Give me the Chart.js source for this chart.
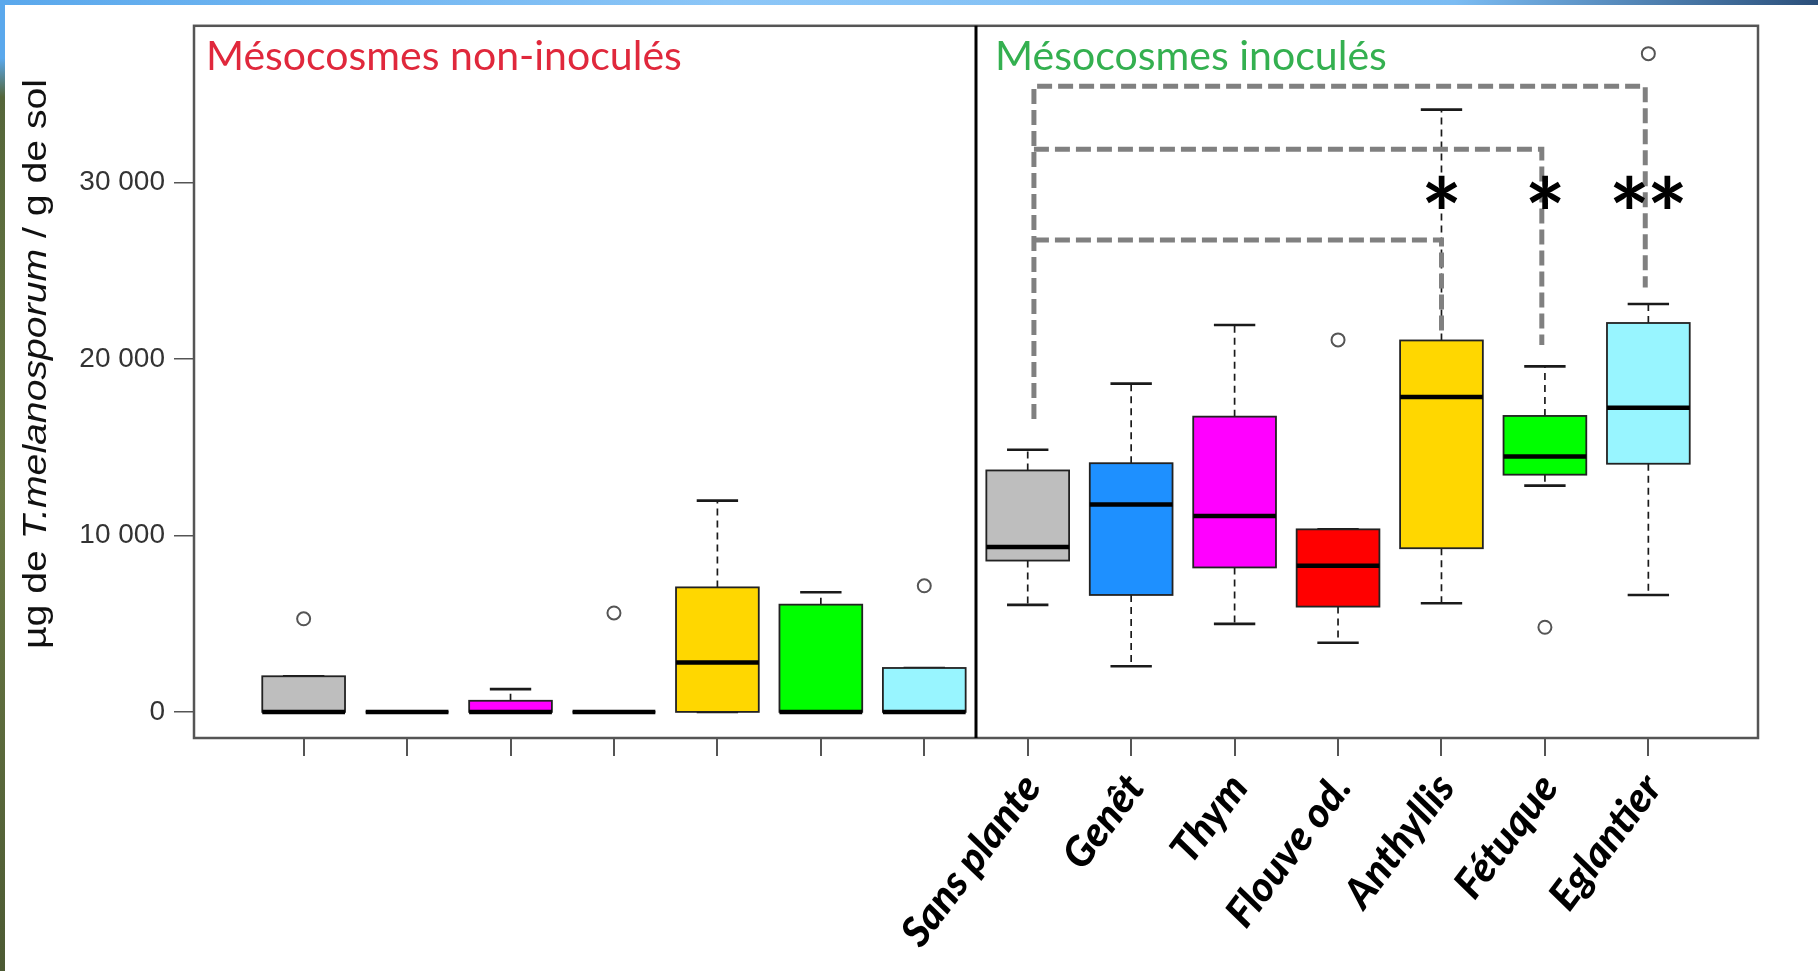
<!DOCTYPE html>
<html><head><meta charset="utf-8">
<script src="https://cdn.jsdelivr.net/npm/chart.js@4.4.1/dist/chart.umd.min.js"></script>
<style>
html,body{margin:0;padding:0;background:#fff;overflow:hidden}
#wrap{position:relative;width:1818px;height:971px;background:#fff}
#topband{position:absolute;left:0;top:0;width:1818px;height:5px;background:linear-gradient(90deg,#5aa8ec,#8cc6f7 40%,#7bbcf3 80%,#2b4f7a)}
#leftband{position:absolute;left:0;top:0;width:5px;height:971px;background:linear-gradient(180deg,#5aa8ec 0,#5aa8ec 6%,#55663a 10%,#6b7a45 50%,#4c5a33 100%)}
canvas{position:absolute;left:0;top:0}
</style></head><body>
<div id="wrap"><canvas id="c" width="1818" height="971"></canvas><div id="topband"></div><div id="leftband"></div></div>
<script>
// ---- data ----
const plants = ['Sans plante','Genêt','Thym','Flouve od.','Anthyllis','Fétuque','Eglantier'];
const groupTitles = ['Mésocosmes non-inoculés','Mésocosmes inoculés'];
const yTicks = [0, 10000, 20000, 30000];

// non-inoculated mesocosms (positions 1..7)
const nonLow    = [0, 0, 0, 0, 0, 0, 0];
const nonQ1     = [0, 0, 0, 0, 0, 0, 0];
const nonMedian = [0, 0, 0, 0, 2800, 0, 0];
const nonQ3     = [2020, 0, 630, 0, 7060, 6080, 2490];
const nonHigh   = [2020, 0, 1290, 0, 11980, 6780, 2490];
const nonOutliers = [[5280], [], [], [5610], [], [], [7150]];

// inoculated mesocosms (positions 8..14)
const inoLow    = [6070, 2590, 4990, 3920, 6160, 12830, 6630];
const inoQ1     = [8580, 6630, 8190, 5970, 9280, 13450, 14070];
const inoMedian = [9350, 11760, 11100, 8280, 17860, 14480, 17240];
const inoQ3     = [13690, 14100, 16740, 10350, 21060, 16780, 22050];
const inoHigh   = [14860, 18610, 21940, 10350, 34150, 19590, 23130];
const inoOutliers = [[], [], [], [21090], [], [4800], [37320]];

// significance brackets (x position, value)
const bracketAll = [[8.06, 16600], [8.06, 35470], [13.97, 35470], [13.97, 24060]];
const bracketFet = [[8.06, 31900], [12.97, 31900], [12.97, 20800]];
const bracketAnt = [[8.06, 26750], [12.0, 26750], [12.0, 21350]];
const starPositions = [12, 13, 14];
const starLabels = ['*', '*', '**'];
const starValue = 29500;

const boxColors = ['#bebebe', '#1e90ff', '#ff00ff', '#ff0000', '#ffd700', '#00ff00', '#98f5ff'];

// ---- build ----
const boxes = [];
for (let i = 0; i < 7; i++) {
  boxes.push({pos: i + 1, lo: nonLow[i], q1: nonQ1[i], med: nonMedian[i], q3: nonQ3[i], hi: nonHigh[i], color: boxColors[i]});
}
for (let i = 0; i < 7; i++) {
  boxes.push({pos: i + 8, lo: inoLow[i], q1: inoQ1[i], med: inoMedian[i], q3: inoQ3[i], hi: inoHigh[i], color: boxColors[i]});
}
const outlierPts = [];
nonOutliers.forEach((arr, i) => arr.forEach(v => outlierPts.push({x: i + 1, y: v})));
inoOutliers.forEach((arr, i) => arr.forEach(v => outlierPts.push({x: i + 8, y: v})));
const toPts = a => a.map(p => ({x: p[0], y: p[1]}));

function fmt(v) { return String(v).replace(/\B(?=(\d{3})+(?!\d))/g, ' '); }

function line(ctx, x1, y1, x2, y2) { ctx.beginPath(); ctx.moveTo(x1, y1); ctx.lineTo(x2, y2); ctx.stroke(); }

const boxPlugin = {
  id: 'boxes',
  beforeDatasetsDraw(chart) {
    const {ctx, scales: {x, y}, chartArea: a} = chart;
    ctx.save();
    ctx.beginPath(); ctx.rect(a.left, a.top, a.right - a.left, a.bottom - a.top); ctx.clip();
    boxes.forEach(b => {
      const cx = x.getPixelForValue(b.pos);
      const hw = x.getPixelForValue(b.pos + 0.4) - cx;
      const cw = x.getPixelForValue(b.pos + 0.2) - cx;
      const yLo = y.getPixelForValue(b.lo), yQ1 = y.getPixelForValue(b.q1), yMed = y.getPixelForValue(b.med);
      const yQ3 = y.getPixelForValue(b.q3), yHi = y.getPixelForValue(b.hi);
      ctx.strokeStyle = '#1a1a1a';
      ctx.lineWidth = 1.7; ctx.setLineDash([7, 5]); ctx.lineCap = 'butt';
      if (b.hi > b.q3) line(ctx, cx, yQ3, cx, yHi);
      if (b.lo < b.q1) line(ctx, cx, yQ1, cx, yLo);
      ctx.setLineDash([]);
      ctx.lineWidth = 2.6;
      line(ctx, cx - cw, yHi, cx + cw, yHi);
      line(ctx, cx - cw, yLo, cx + cw, yLo);
      ctx.fillStyle = b.color;
      ctx.fillRect(cx - hw, yQ3, 2 * hw, yQ1 - yQ3);
      ctx.lineWidth = 1.8; ctx.strokeStyle = '#222';
      ctx.strokeRect(cx - hw, yQ3, 2 * hw, yQ1 - yQ3);
      ctx.lineWidth = 4.5; ctx.strokeStyle = '#000';
      line(ctx, cx - hw, yMed, cx + hw, yMed);
    });
    ctx.restore();
  },
  afterDraw(chart) {
    const {ctx, scales: {x, y}, chartArea: a} = chart;
    ctx.save();
    // frame
    ctx.strokeStyle = '#555'; ctx.lineWidth = 2.5;
    ctx.strokeRect(a.left, a.top, a.right - a.left, a.bottom - a.top);
    // divider
    const xd = x.getPixelForValue(7.5);
    ctx.strokeStyle = '#000'; ctx.lineWidth = 3;
    line(ctx, xd, a.top, xd, a.bottom);

    // group titles
    const fit = (text, font, target) => { ctx.font = font.replace('SIZE', '100px'); return 100 * target / ctx.measureText(text).width; };
    let s = fit(groupTitles[0], 'SIZE Lato', 476);
    ctx.font = s + 'px Lato'; ctx.fillStyle = '#e0283c'; ctx.textAlign = 'left'; ctx.textBaseline = 'alphabetic';
    ctx.fillText(groupTitles[0], a.left + 12, a.top + 44);
    s = fit(groupTitles[1], 'SIZE Lato', 392);
    ctx.font = s + 'px Lato'; ctx.fillStyle = '#34b050';
    ctx.fillText(groupTitles[1], xd + 19, a.top + 44);

    // stars
    ctx.fillStyle = '#000';
    ctx.font = 'bold 100px Lato';
    const m0 = ctx.measureText('*');
    const sw = m0.actualBoundingBoxLeft + m0.actualBoundingBoxRight;
    const ss = 100 * 32 / sw;
    ctx.font = 'bold ' + ss + 'px Lato';
    const adv = ctx.measureText('*').width;
    starPositions.forEach((p, i) => {
      const t = starLabels[i];
      ctx.letterSpacing = t.length > 1 ? (38 - adv) + 'px' : '0px';
      const m = ctx.measureText(t);
      const w = m.actualBoundingBoxLeft + m.actualBoundingBoxRight;
      const h = m.actualBoundingBoxAscent + m.actualBoundingBoxDescent;
      const cx = x.getPixelForValue(p), cy = y.getPixelForValue(starValue);
      ctx.textAlign = 'left'; ctx.textBaseline = 'alphabetic';
      ctx.fillText(t, cx - w / 2 + m.actualBoundingBoxLeft, cy - h / 2 + m.actualBoundingBoxAscent);
    });
    ctx.letterSpacing = '0px';

    // x labels (rotated)
    const ls = fit('Flouve od.', 'italic 900 SIZE Lato', 178);
    ctx.font = 'italic 900 ' + ls + 'px Lato';
    ctx.fillStyle = '#000'; ctx.textAlign = 'right'; ctx.textBaseline = 'alphabetic';
    plants.forEach((p, i) => {
      const px = x.getPixelForValue(8 + i) + 15;
      ctx.save();
      ctx.translate(px, a.bottom + 50);
      ctx.rotate(-53 * Math.PI / 180);
      ctx.fillText(p, 0, 0);
      ctx.restore();
    });

    // y axis title with italic species name
    const parts = [['µg de ', 'normal'], ['T.melanosporum', 'italic'], [' / g de sol', 'normal']];
    const fs = 34;
    let total = 0;
    parts.forEach(pt => { ctx.font = (pt[1] === 'italic' ? 'italic ' : '') + fs + 'px "Liberation Sans"'; pt.w = ctx.measureText(pt[0]).width; total += pt.w; });
    const k = 570 / total;
    ctx.save();
    ctx.translate(37, 364);
    ctx.rotate(-Math.PI / 2);
    ctx.scale(k, 1);
    ctx.fillStyle = '#111'; ctx.textAlign = 'left'; ctx.textBaseline = 'middle';
    let cxp = -total / 2;
    parts.forEach(pt => { ctx.font = (pt[1] === 'italic' ? 'italic ' : '') + fs + 'px "Liberation Sans"'; ctx.fillText(pt[0], cxp, 0); cxp += pt.w; });
    ctx.restore();
    ctx.restore();
  }
};

new Chart(document.getElementById('c'), {
  type: 'scatter',
  data: {
    datasets: [
      {data: toPts(bracketAll), showLine: true, borderColor: '#808080', borderWidth: 5, borderDash: [15, 6], pointRadius: 0, fill: false},
      {data: toPts(bracketFet), showLine: true, borderColor: '#808080', borderWidth: 5, borderDash: [15, 6], pointRadius: 0, fill: false},
      {data: toPts(bracketAnt), showLine: true, borderColor: '#808080', borderWidth: 5, borderDash: [15, 6], pointRadius: 0, fill: false},
      {data: outlierPts, pointRadius: 6.5, pointBorderWidth: 2, pointBorderColor: '#555', pointBackgroundColor: 'rgba(255,255,255,0)'}
    ]
  },
  options: {
    responsive: false, animation: false, devicePixelRatio: 1, events: [],
    layout: {padding: {top: 21, right: 60, bottom: 0, left: 0}},
    plugins: {legend: {display: false}, tooltip: {enabled: false}, title: {display: false}},
    scales: {
      x: {
        type: 'linear', min: -0.06, max: 15.06,
        afterBuildTicks: ax => { ax.ticks = boxes.map(b => ({value: b.pos})); },
        afterFit: ax => { ax.height = 233; },
        ticks: {display: false},
        grid: {drawOnChartArea: false, drawTicks: true, tickLength: 18, color: '#555', lineWidth: 2},
        border: {display: false}
      },
      y: {
        type: 'linear', min: -1480, max: 38900,
        afterBuildTicks: ax => { ax.ticks = yTicks.map(v => ({value: v})); },
        afterFit: ax => { ax.width = 194; },
        ticks: {callback: v => fmt(v), color: '#333', padding: 9, font: {family: '"Liberation Sans"', size: 28}},
        grid: {drawOnChartArea: false, drawTicks: true, tickLength: 20, color: '#555', lineWidth: 1.5},
        border: {display: false}
      }
    }
  },
  plugins: [boxPlugin]
});
</script>
</body></html>
